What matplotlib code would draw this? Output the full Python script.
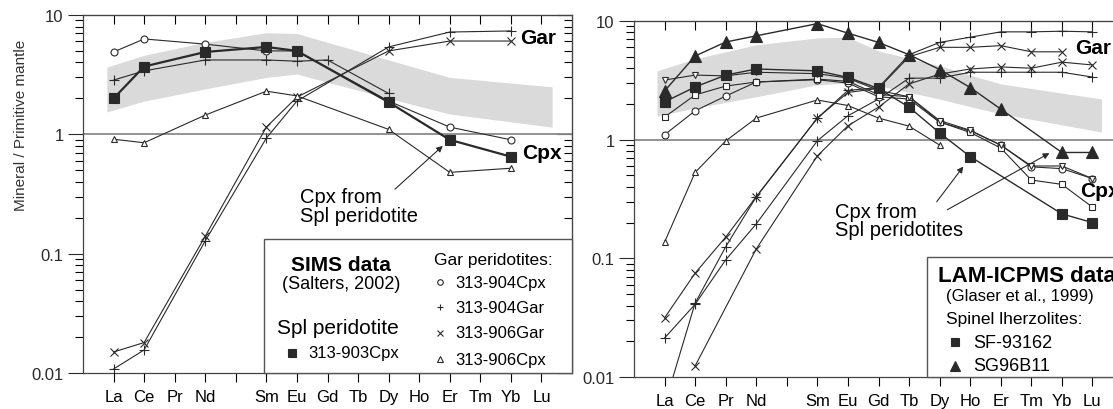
"""
Two REE spider diagrams (mineral / primitive mantle), SIMS vs LAM-ICPMS.
"""

import numpy as np
import matplotlib
matplotlib.use("Agg")
import matplotlib.pyplot as plt
from matplotlib.patches import Rectangle
from matplotlib.ticker import LogLocator, NullFormatter, FixedLocator

plt.rcParams['font.family'] = ['Liberation Sans', 'DejaVu Sans']

INK = '#2a2a2a'
GREY_LINE = '#8a8a8a'
BAND = '#dadada'
NAN = np.nan

ELEMENTS = ['La', 'Ce', 'Pr', 'Nd', '', 'Sm', 'Eu', 'Gd', 'Tb', 'Dy',
            'Ho', 'Er', 'Tm', 'Yb', 'Lu']
POS = np.arange(1, len(ELEMENTS) + 1)

# ---- left panel: SIMS data (Salters, 2002) ----
sims_903cpx = [2.0, 3.7, NAN, 4.9, NAN, 5.4, 5.0, NAN, NAN, 1.86, NAN, 0.9, NAN, 0.65, NAN]
sims_904cpx = [4.9, 6.3, NAN, 5.7, NAN, 5.0, 5.0, NAN, NAN, 1.9, NAN, 1.15, NAN, 0.9, NAN]
sims_plus_cpx = [2.85, 3.4, NAN, 4.2, NAN, 4.2, 4.1, 4.2, NAN, 2.2, NAN, NAN, NAN, NAN, NAN]
sims_904gar = [0.0108, 0.0156, NAN, 0.128, NAN, 0.93, 1.9, NAN, NAN, 5.4, NAN, 7.2, NAN, 7.35, NAN]
sims_906gar = [0.015, 0.018, NAN, 0.14, NAN, 1.15, 2.05, NAN, NAN, 5.0, NAN, 6.05, NAN, 6.05, NAN]
sims_906cpx = [0.91, 0.85, NAN, 1.45, NAN, 2.3, 2.1, NAN, NAN, 1.1, NAN, 0.48, NAN, 0.52, NAN]

band_left_x = [0.78, 2, 4, 6, 7, 10, 12, 15.35]
band_left_hi = [3.66, 4.6, 5.9, 7.1, 7.0, 4.2, 3.0, 2.5]
band_left_lo = [1.54, 1.9, 2.4, 3.0, 3.2, 2.0, 1.48, 1.15]

# ---- right panel: LAM-ICPMS data (Glaser et al., 1999) ----
lam_sg96b11 = [2.57, 5.07, 6.65, 7.5, NAN, 9.5, 7.9, 6.6, 5.2, 3.9, 2.75, 1.81, NAN, 0.78, 0.78]
lam_sf93162 = [2.08, 2.78, 3.5, 3.94, NAN, 3.8, 3.35, 2.7, 1.88, 1.14, 0.72, NAN, NAN, 0.237, 0.2]
lam_dtri = [3.18, 3.5, 3.45, 3.7, NAN, 3.6, 3.3, 2.6, 2.3, 1.45, 1.2, 0.9, 0.6, 0.6, 0.47]
lam_osq = [1.55, 2.38, 2.83, 3.06, NAN, 3.24, 3.1, 2.4, 2.3, 1.41, 1.15, 0.85, 0.457, 0.42, 0.27]
lam_ocirc = [1.1, 1.75, 2.33, 3.06, NAN, 3.2, 3.0, 2.3, 2.2, 1.4, 1.19, 0.9, 0.59, 0.57, 0.47]
lam_otri = [0.137, 0.53, 0.975, 1.52, NAN, 2.16, 1.94, 1.52, 1.3, 0.9, NAN, NAN, NAN, NAN, NAN]
lam_gar1 = [0.0058, 0.042, 0.125, 0.33, NAN, 1.52, 2.6, 2.75, 5.2, 6.6, 7.3, 8.1, 8.1, 8.2, 8.1]
lam_gar2 = [0.0315, 0.075, 0.151, 0.33, NAN, 1.52, 2.5, 2.7, 5.0, 6.0, 6.0, 6.2, 5.5, 5.5, NAN]
lam_gar3 = [NAN, 0.0124, NAN, 0.12, NAN, 0.73, 1.31, 1.88, 2.95, 3.57, 3.94, 4.1, 4.0, 4.5, 4.26]
lam_gar4 = [0.0213, 0.041, 0.097, 0.195, NAN, 0.98, 1.59, 2.2, 3.3, 3.3, 3.7, 3.7, 3.7, 3.7, 3.37]

band_right_x = [0.75, 2, 4, 6, 7, 8, 10, 11, 12, 15.3]
band_right_hi = [3.8, 4.8, 6.3, 7.2, 7.3, 5.6, 4.2, 3.5, 2.95, 2.2]
band_right_lo = [1.58, 1.85, 2.3, 2.9, 3.0, 2.85, 2.2, 1.9, 1.65, 1.16]


def plot_series(ax, values, marker, filled=False, ms=5, lw=0.8):
    y = np.array(values, dtype=float)
    ok = np.isfinite(y)
    face = INK if filled else 'white'
    ax.plot(POS[ok], y[ok], color=INK, lw=lw, marker=marker, ms=ms,
            mfc=face, mec=INK, mew=0.8, zorder=3)


def setup_axes(ax):
    ax.set_yscale('log')
    ax.set_ylim(0.01, 10)
    ax.set_xlim(0, 16)
    ax.set_xticks(POS)
    ax.set_xticklabels(ELEMENTS, fontsize=12)
    ax.set_yticks([0.01, 0.1, 1, 10])
    ax.set_yticklabels(['0.01', '0.1', '1', '10'], fontsize=12)
    ax.yaxis.set_minor_locator(LogLocator(base=10, subs=np.arange(2, 10)))
    ax.yaxis.set_minor_formatter(NullFormatter())
    ax.tick_params(axis='y', which='major', direction='out', length=11,
                   width=0.8, right=False, pad=3, colors=INK)
    ax.tick_params(axis='y', which='minor', direction='out', length=5.5,
                   width=0.8, right=False)
    ax.tick_params(axis='x', direction='out', length=6.5, width=0.8,
                   top=False, pad=5)
    for sp in ax.spines.values():
        sp.set_color('#444444')
        sp.set_linewidth(0.9)
    top = ax.secondary_xaxis('top')
    top.xaxis.set_major_locator(FixedLocator(POS))
    top.tick_params(direction='in', length=6.5, width=0.8, labeltop=False)
    top.spines['top'].set_color('#444444')
    ax.axhline(1, color=GREY_LINE, lw=1.3, zorder=1)


def add_right_ticks(ax):
    right = ax.secondary_yaxis('right')
    right.yaxis.set_minor_locator(LogLocator(base=10, subs=np.arange(2, 10)))
    right.yaxis.set_minor_formatter(NullFormatter())
    right.tick_params(which='major', direction='in', length=11, width=0.8,
                      labelright=False)
    right.tick_params(which='minor', direction='in', length=5.5, width=0.8,
                      labelright=False)
    right.spines['right'].set_color('#444444')


def legend_marker(ax, x, y, marker, filled=False, ms=4):
    face = INK if filled else 'white'
    ax.plot([x], [y], marker=marker, ms=ms, mfc=face, mec=INK, mew=0.8,
            transform=ax.transAxes, clip_on=False, zorder=6)


fig = plt.figure(figsize=(11.13, 4.10), dpi=100)
ax1 = fig.add_axes([83 / 1113, 36 / 410, 489 / 1113, 358 / 410])
ax2 = fig.add_axes([634 / 1113, 32 / 410, 489 / 1113, 356 / 410])

# ---------------- left panel ----------------
setup_axes(ax1)
add_right_ticks(ax1)
ax1.fill_between(band_left_x, band_left_lo, band_left_hi, color=BAND,
                 lw=0, zorder=0)
plot_series(ax1, sims_904cpx, 'o', ms=5)
plot_series(ax1, sims_plus_cpx, '+', ms=7)
plot_series(ax1, sims_904gar, '+', ms=7)
plot_series(ax1, sims_906gar, 'x', ms=6)
plot_series(ax1, sims_906cpx, '^', ms=5)
plot_series(ax1, sims_903cpx, 's', filled=True, ms=7, lw=1.6)

ax1.text(14.3, 6.5, 'Gar', fontsize=15, fontweight='bold', va='center')
ax1.text(14.36, 0.71, 'Cpx', fontsize=15, fontweight='bold', va='center')
ax1.annotate('', xy=(11.84, 0.83), xytext=(10.14, 0.335),
             arrowprops=dict(arrowstyle='-|>', color=INK, lw=0.8,
                             mutation_scale=9))
ax1.text(7.1, 0.25, 'Cpx from\nSpl peridotite', fontsize=14.5,
         va='center', ha='left', linespacing=1.0)

ax1.add_patch(Rectangle((0.37, 0), 0.63, 0.374, transform=ax1.transAxes,
                        facecolor='white', edgecolor='#555555', lw=1.0,
                        zorder=4, clip_on=False))
ax1.text(0.527, 0.304, 'SIMS data', transform=ax1.transAxes, fontsize=15,
         fontweight='bold', ha='center', va='center', zorder=5)
ax1.text(0.527, 0.249, '(Salters, 2002)', transform=ax1.transAxes,
         fontsize=13, ha='center', va='center', zorder=5)
ax1.text(0.522, 0.128, 'Spl peridotite', transform=ax1.transAxes,
         fontsize=15, ha='center', va='center', zorder=5)
legend_marker(ax1, 0.427, 0.056, 's', filled=True, ms=5.5)
ax1.text(0.46, 0.056, '313-903Cpx', transform=ax1.transAxes, fontsize=12,
         va='center', zorder=5)
ax1.text(0.718, 0.318, 'Gar peridotites:', transform=ax1.transAxes,
         fontsize=12.5, va='center', zorder=5)
left_entries = [('o', '313-904Cpx', 0.254), ('+', '313-904Gar', 0.184),
                ('x', '313-906Gar', 0.112), ('^', '313-906Cpx', 0.039)]
for mk, label, yy in left_entries:
    legend_marker(ax1, 0.73, yy, mk, ms=4)
    ax1.text(0.761, yy, label, transform=ax1.transAxes, fontsize=12,
             va='center', zorder=5)

# ---------------- right panel ----------------
setup_axes(ax2)
ax2.fill_between(band_right_x, band_right_lo, band_right_hi, color=BAND,
                 lw=0, zorder=0)
plot_series(ax2, lam_gar1, '+', ms=7)
plot_series(ax2, lam_gar2, 'x', ms=6)
plot_series(ax2, lam_gar3, 'x', ms=6)
plot_series(ax2, lam_gar4, '+', ms=7)
plot_series(ax2, lam_otri, '^', ms=5)
plot_series(ax2, lam_ocirc, 'o', ms=5)
plot_series(ax2, lam_osq, 's', ms=5)
plot_series(ax2, lam_dtri, 'v', ms=5)
plot_series(ax2, lam_sf93162, 's', filled=True, ms=7, lw=1.0)
plot_series(ax2, lam_sg96b11, '^', filled=True, ms=8, lw=1.0)

ax2.text(14.43, 5.93, 'Gar', fontsize=15, fontweight='bold', va='center')
ax2.text(14.59, 0.37, 'Cpx', fontsize=15, fontweight='bold', va='center')
ax2.annotate('', xy=(10.83, 0.62), xytext=(9.85, 0.287),
             arrowprops=dict(arrowstyle='-|>', color=INK, lw=0.8,
                             mutation_scale=9))
ax2.annotate('', xy=(13.67, 0.79), xytext=(10.17, 0.25),
             arrowprops=dict(arrowstyle='-|>', color=INK, lw=0.8,
                             mutation_scale=9))
ax2.text(6.58, 0.207, 'Cpx from\nSpl peridotites', fontsize=14.5,
         va='center', ha='left', linespacing=0.95)

ax2.add_patch(Rectangle((0.599, 0), 0.5, 0.337, transform=ax2.transAxes,
                        facecolor='white', edgecolor='#555555', lw=1.0,
                        zorder=4, clip_on=False))
ax2.text(0.622, 0.284, 'LAM-ICPMS data', transform=ax2.transAxes,
         fontsize=16, fontweight='bold', va='center', zorder=5)
ax2.text(0.638, 0.230, '(Glaser et al., 1999)', transform=ax2.transAxes,
         fontsize=12, va='center', zorder=5)
ax2.text(0.638, 0.163, 'Spinel lherzolites:', transform=ax2.transAxes,
         fontsize=12.5, va='center', zorder=5)
legend_marker(ax2, 0.656, 0.098, 's', filled=True, ms=6)
ax2.text(0.693, 0.098, 'SF-93162', transform=ax2.transAxes, fontsize=13,
         va='center', zorder=5)
legend_marker(ax2, 0.656, 0.031, '^', filled=True, ms=7)
ax2.text(0.693, 0.031, 'SG96B11', transform=ax2.transAxes, fontsize=13,
         va='center', zorder=5)

fig.text(21 / 1113, 0.695, 'Mineral / Primitive mantle', rotation=90,
         fontsize=11, color='#333333', ha='center', va='center')

fig.savefig('out.png', dpi=100)
